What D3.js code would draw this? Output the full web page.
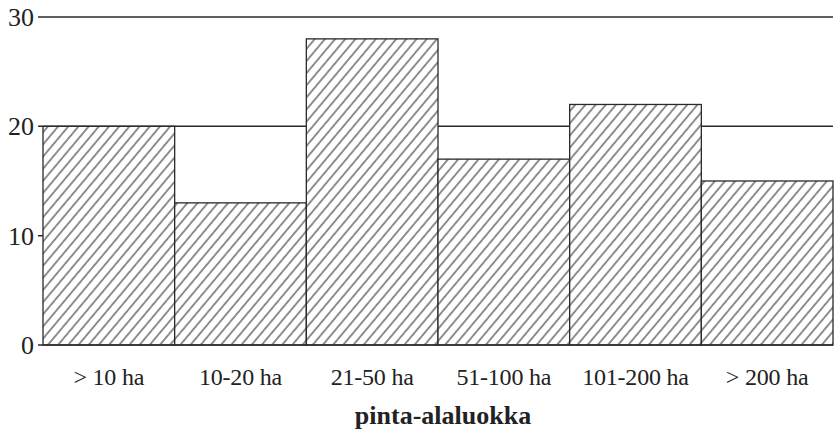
<!DOCTYPE html>
<html><head><meta charset="utf-8">
<script src="https://cdn.jsdelivr.net/npm/d3@7"></script>
<style>body{margin:0;background:#fff}svg{display:block}</style>
</head><body>
<script>
const categories = ["> 10 ha","10-20 ha","21-50 ha","51-100 ha","101-200 ha","> 200 ha"];
const values = [20,13,28,17,22,15];
const yTicks = [0,10,20,30];
const axisTitle = "pinta-alaluokka";

const W=836,H=433;
const FONT='"Liberation Serif"';
const svg=d3.select("body").append("svg").attr("width",W).attr("height",H);
const x=d3.scaleBand().domain(categories).range([43,833]).padding(0);
const y=d3.scaleLinear().domain([0,30]).range([345,17]);
const ink="#2a2a2a";

const defs=svg.append("defs");
const pw=7.8;
const pat=defs.append("pattern").attr("id","hatch").attr("patternUnits","userSpaceOnUse")
  .attr("width",pw).attr("height",10).attr("patternTransform","rotate(40)");
pat.append("rect").attr("width",pw).attr("height",10).attr("fill","#fff");
pat.append("line").attr("x1",1).attr("y1",0).attr("x2",1).attr("y2",10)
  .attr("stroke","#333").attr("stroke-width",1.1);

svg.append("g").selectAll("line").data(yTicks.filter(d=>d>0)).join("line")
  .attr("x1",38).attr("x2",833).attr("y1",d=>y(d)).attr("y2",d=>y(d))
  .attr("stroke",ink).attr("stroke-width",1.5);

svg.append("g").selectAll("rect").data(values).join("rect")
  .attr("x",(d,i)=>x(categories[i])).attr("width",x.bandwidth())
  .attr("y",d=>y(d)).attr("height",d=>y(0)-y(d))
  .attr("fill","url(#hatch)").attr("stroke",ink).attr("stroke-width",1.3);

svg.append("line").attr("x1",38).attr("x2",833).attr("y1",y(0)).attr("y2",y(0))
  .attr("stroke",ink).attr("stroke-width",1.6);

svg.append("g").selectAll("text").data(yTicks).join("text")
  .attr("x",34).attr("y",d=>y(d)).attr("dy","0.35em").attr("text-anchor","end")
  .attr("font-size",26).style("font-family",FONT).attr("fill","#222")
  .text(d=>d);

svg.append("g").selectAll("text").data(categories).join("text")
  .attr("x",d=>x(d)+x.bandwidth()/2).attr("y",385).attr("text-anchor","middle")
  .attr("font-size",24).style("font-family",FONT).attr("fill","#222")
  .attr("letter-spacing",-0.2).text(d=>d);

svg.append("text").attr("x",443).attr("y",424).attr("text-anchor","middle")
  .attr("font-size",26).style("font-family",FONT).attr("font-weight","bold")
  .attr("fill","#222").text(axisTitle);
</script>
</body></html>
